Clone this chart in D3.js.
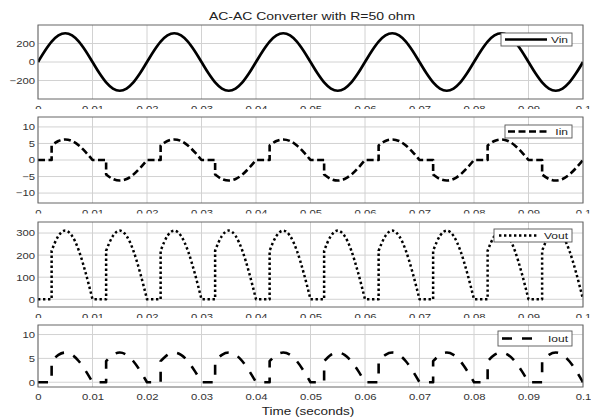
<!DOCTYPE html>
<html><head><meta charset="utf-8">
<script src="https://cdn.jsdelivr.net/npm/d3@7"></script>
<style>
body{margin:0;background:#fff}
svg{display:block}
text{font-family:"Liberation Sans",Arial,sans-serif}
</style></head>
<body><svg id="c" width="591" height="418"></svg>
<script>
// ---------- data ----------
const time = [
 0, 0.00125, 0.0025, 0.0025, 0.00375, 0.005, 0.00625, 0.0075, 0.00875,
 0.01, 0.01125, 0.0125, 0.0125, 0.01375, 0.015, 0.01625, 0.0175, 0.01875,
 0.02, 0.02125, 0.0225, 0.0225, 0.02375, 0.025, 0.02625, 0.0275, 0.02875,
 0.03, 0.03125, 0.0325, 0.0325, 0.03375, 0.035, 0.03625, 0.0375, 0.03875,
 0.04, 0.04125, 0.0425, 0.0425, 0.04375, 0.045, 0.04625, 0.0475, 0.04875,
 0.05, 0.05125, 0.0525, 0.0525, 0.05375, 0.055, 0.05625, 0.0575, 0.05875,
 0.06, 0.06125, 0.0625, 0.0625, 0.06375, 0.065, 0.06625, 0.0675, 0.06875,
 0.07, 0.07125, 0.0725, 0.0725, 0.07375, 0.075, 0.07625, 0.0775, 0.07875,
 0.08, 0.08125, 0.0825, 0.0825, 0.08375, 0.085, 0.08625, 0.0875, 0.08875,
 0.09, 0.09125, 0.0925, 0.0925, 0.09375, 0.095, 0.09625, 0.0975, 0.09875,
 0.1];
const vin = [
 0, 119, 220, 220, 287, 311, 287, 220, 119,
 0, -119, -220, -220, -287, -311, -287, -220, -119,
 0, 119, 220, 220, 287, 311, 287, 220, 119,
 0, -119, -220, -220, -287, -311, -287, -220, -119,
 0, 119, 220, 220, 287, 311, 287, 220, 119,
 0, -119, -220, -220, -287, -311, -287, -220, -119,
 0, 119, 220, 220, 287, 311, 287, 220, 119,
 0, -119, -220, -220, -287, -311, -287, -220, -119,
 0, 119, 220, 220, 287, 311, 287, 220, 119,
 0, -119, -220, -220, -287, -311, -287, -220, -119,
 0];
const iin = [
 0, 0, 0, 4.40, 5.75, 6.22, 5.75, 4.40, 2.38,
 0, 0, 0, -4.40, -5.75, -6.22, -5.75, -4.40, -2.38,
 0, 0, 0, 4.40, 5.75, 6.22, 5.75, 4.40, 2.38,
 0, 0, 0, -4.40, -5.75, -6.22, -5.75, -4.40, -2.38,
 0, 0, 0, 4.40, 5.75, 6.22, 5.75, 4.40, 2.38,
 0, 0, 0, -4.40, -5.75, -6.22, -5.75, -4.40, -2.38,
 0, 0, 0, 4.40, 5.75, 6.22, 5.75, 4.40, 2.38,
 0, 0, 0, -4.40, -5.75, -6.22, -5.75, -4.40, -2.38,
 0, 0, 0, 4.40, 5.75, 6.22, 5.75, 4.40, 2.38,
 0, 0, 0, -4.40, -5.75, -6.22, -5.75, -4.40, -2.38,
 0];
const vout = [
 0, 0, 0, 220, 287, 311, 287, 220, 119,
 0, 0, 0, 220, 287, 311, 287, 220, 119,
 0, 0, 0, 220, 287, 311, 287, 220, 119,
 0, 0, 0, 220, 287, 311, 287, 220, 119,
 0, 0, 0, 220, 287, 311, 287, 220, 119,
 0, 0, 0, 220, 287, 311, 287, 220, 119,
 0, 0, 0, 220, 287, 311, 287, 220, 119,
 0, 0, 0, 220, 287, 311, 287, 220, 119,
 0, 0, 0, 220, 287, 311, 287, 220, 119,
 0, 0, 0, 220, 287, 311, 287, 220, 119,
 0];
const iout = [
 0, 0, 0, 4.40, 5.75, 6.22, 5.75, 4.40, 2.38,
 0, 0, 0, 4.40, 5.75, 6.22, 5.75, 4.40, 2.38,
 0, 0, 0, 4.40, 5.75, 6.22, 5.75, 4.40, 2.38,
 0, 0, 0, 4.40, 5.75, 6.22, 5.75, 4.40, 2.38,
 0, 0, 0, 4.40, 5.75, 6.22, 5.75, 4.40, 2.38,
 0, 0, 0, 4.40, 5.75, 6.22, 5.75, 4.40, 2.38,
 0, 0, 0, 4.40, 5.75, 6.22, 5.75, 4.40, 2.38,
 0, 0, 0, 4.40, 5.75, 6.22, 5.75, 4.40, 2.38,
 0, 0, 0, 4.40, 5.75, 6.22, 5.75, 4.40, 2.38,
 0, 0, 0, 4.40, 5.75, 6.22, 5.75, 4.40, 2.38,
 0];
const xTicks = [0, 0.01, 0.02, 0.03, 0.04, 0.05, 0.06, 0.07, 0.08, 0.09, 0.1];
const xTickLabels = ["0", "0.01", "0.02", "0.03", "0.04", "0.05", "0.06", "0.07", "0.08", "0.09", "0.1"];
const vinTicks = [-200, 0, 200];
const iinTicks = [-10, -5, 0, 5, 10];
const voutTicks = [0, 100, 200, 300];
const ioutTicks = [0, 5, 10];
const seriesNames = ["Vin", "Iin", "Vout", "Iout"];
const titleText = "AC-AC Converter with R=50 ohm";
const xLabelText = "Time (seconds)";

// ---------- layout ----------
const W = 591, H = 418, L = 38, R = 583, SY = 0.8;
const FONT = '"Liberation Sans",Arial,sans-serif';
const panels = [
  {name: seriesNames[0], values: vin,  domain: [-400, 400], ticks: vinTicks,  top: 25,  bottom: 99,  cover: null,
   dash: null, width: 2.7, leg: {x0: 501, y0: 33, x1: 572, y1: 46, l0: 505, l1: 547}},
  {name: seriesNames[1], values: iin,  domain: [-13, 13],   ticks: iinTicks,  top: 117, bottom: 203, cover: 109,
   dash: "7,3.5", width: 2.6, leg: {x0: 505, y0: 125, x1: 572, y1: 138, l0: 508, l1: 550}},
  {name: seriesNames[2], values: vout, domain: [-35, 350],  ticks: voutTicks, top: 222, bottom: 307, cover: 213.5,
   dash: "2.4,2.6", width: 2.5, leg: {x0: 494, y0: 229, x1: 572, y1: 242, l0: 499, l1: 537}},
  {name: seriesNames[3], values: iout, domain: [-1, 12],    ticks: ioutTicks, top: 325, bottom: 387, cover: 318,
   dash: "10,10", width: 2.6, leg: {x0: 498, y0: 331, x1: 572, y1: 346, l0: 502, l1: 542}}
];

const svg = d3.select('#c');
svg.append('rect').attr('width', W).attr('height', H).attr('fill', '#fff');
const x = d3.scaleLinear().domain([0, 0.1]).range([L, R]);

function label(g, txt, tx, ty, size, anchor, color) {
  return g.append('text')
    .attr('transform', `translate(${tx},${ty}) scale(1,${SY})`)
    .attr('font-size', size).attr('text-anchor', anchor)
    .attr('fill', color).attr('font-family', FONT).text(txt);
}

function buildPath(ts, vs, y) {
  const runs = [];
  let cur = [[ts[0], vs[0]]];
  for (let i = 1; i < ts.length; i++) {
    const p = [ts[i], vs[i]];
    const prev = cur[cur.length - 1];
    if (ts[i] === prev[0]) {
      if (vs[i] === prev[1]) continue;
      runs.push(cur); cur = [p]; continue;
    }
    if (prev[1] === 0 && vs[i] === 0 && cur.length > 1 && cur[cur.length - 2][1] !== 0) {
      runs.push(cur); cur = [prev, p]; continue;
    }
    cur.push(p);
  }
  runs.push(cur);
  const gen = d3.line().x(d => x(d[0])).y(d => y(d[1])).curve(d3.curveMonotoneX);
  return runs.map((r, k) => k === 0 ? gen(r) : gen(r).replace(/^M/, 'L')).join('');
}

const defs = svg.append('defs');

panels.forEach((p, i) => {
  const y = d3.scaleLinear().domain(p.domain).range([p.bottom, p.top]);
  const g = svg.append('g');
  if (p.cover != null) {
    g.append('rect').attr('x', 0).attr('y', p.cover).attr('width', W)
      .attr('height', p.bottom - p.cover + 1).attr('fill', '#fff');
  }
  // grid
  g.append('g').selectAll('line').data(xTicks).join('line')
    .attr('x1', d => x(d)).attr('x2', d => x(d)).attr('y1', p.top).attr('y2', p.bottom)
    .attr('stroke', '#d2d2d2').attr('stroke-width', 1);
  g.append('g').selectAll('line').data(p.ticks).join('line')
    .attr('x1', L).attr('x2', R).attr('y1', d => y(d)).attr('y2', d => y(d))
    .attr('stroke', '#d2d2d2').attr('stroke-width', 1);

  defs.append('clipPath').attr('id', 'clip' + i).append('rect')
    .attr('x', L).attr('y', p.top).attr('width', R - L).attr('height', p.bottom - p.top);

  // series
  const path = g.append('path')
    .attr('d', buildPath(time, p.values, y))
    .attr('fill', 'none').attr('stroke', '#000').attr('stroke-width', p.width)
    .attr('stroke-linejoin', 'round')
    .attr('clip-path', `url(#clip${i})`);
  if (p.dash) path.attr('stroke-dasharray', p.dash).attr('stroke-linecap', 'butt');

  // box
  g.append('rect').attr('x', L).attr('y', p.top).attr('width', R - L).attr('height', p.bottom - p.top)
    .attr('fill', 'none').attr('stroke', '#666').attr('stroke-width', 1);

  // axes
  const ya = g.append('g').attr('transform', `translate(${L},0)`)
    .call(d3.axisLeft(y).tickValues(p.ticks).tickSize(0).tickPadding(3));
  ya.select('.domain').remove();
  ya.selectAll('text').attr('font-size', 11.3).attr('fill', '#333').attr('font-family', FONT)
    .attr('transform', `scale(1,${SY})`);

  const xa = g.append('g').attr('transform', `translate(0,${p.bottom})`)
    .call(d3.axisBottom(x).tickValues(xTicks).tickSize(0).tickPadding(8.5)
      .tickFormat((d, k) => xTickLabels[k]));
  xa.select('.domain').remove();
  xa.selectAll('text').attr('font-size', 11.3).attr('fill', '#333').attr('font-family', FONT)
    .attr('transform', `scale(1,${SY})`);

  p.lg = svg.append('g').attr('class', 'legend' + i);
});

// legends drawn after all panels (so covers never hide them)
panels.forEach((p, i) => {
  const lg = p.lg, b = p.leg, cy = (b.y0 + b.y1) / 2;
  lg.append('rect').attr('x', b.x0).attr('y', b.y0).attr('width', b.x1 - b.x0).attr('height', b.y1 - b.y0)
    .attr('fill', '#fff').attr('stroke', '#555').attr('stroke-width', 0.9);
  const ln = lg.append('line').attr('x1', b.l0).attr('x2', b.l1).attr('y1', cy).attr('y2', cy)
    .attr('stroke', '#000').attr('stroke-width', p.width);
  if (p.dash) ln.attr('stroke-dasharray', p.dash);
  label(lg, p.name, b.x1 - 4, cy + 3.8, 12, 'end', '#222');
});

label(svg, titleText, 312, 20, 14, 'middle', '#222');
label(svg, xLabelText, 308, 415, 13.5, 'middle', '#222');
</script></body></html>
